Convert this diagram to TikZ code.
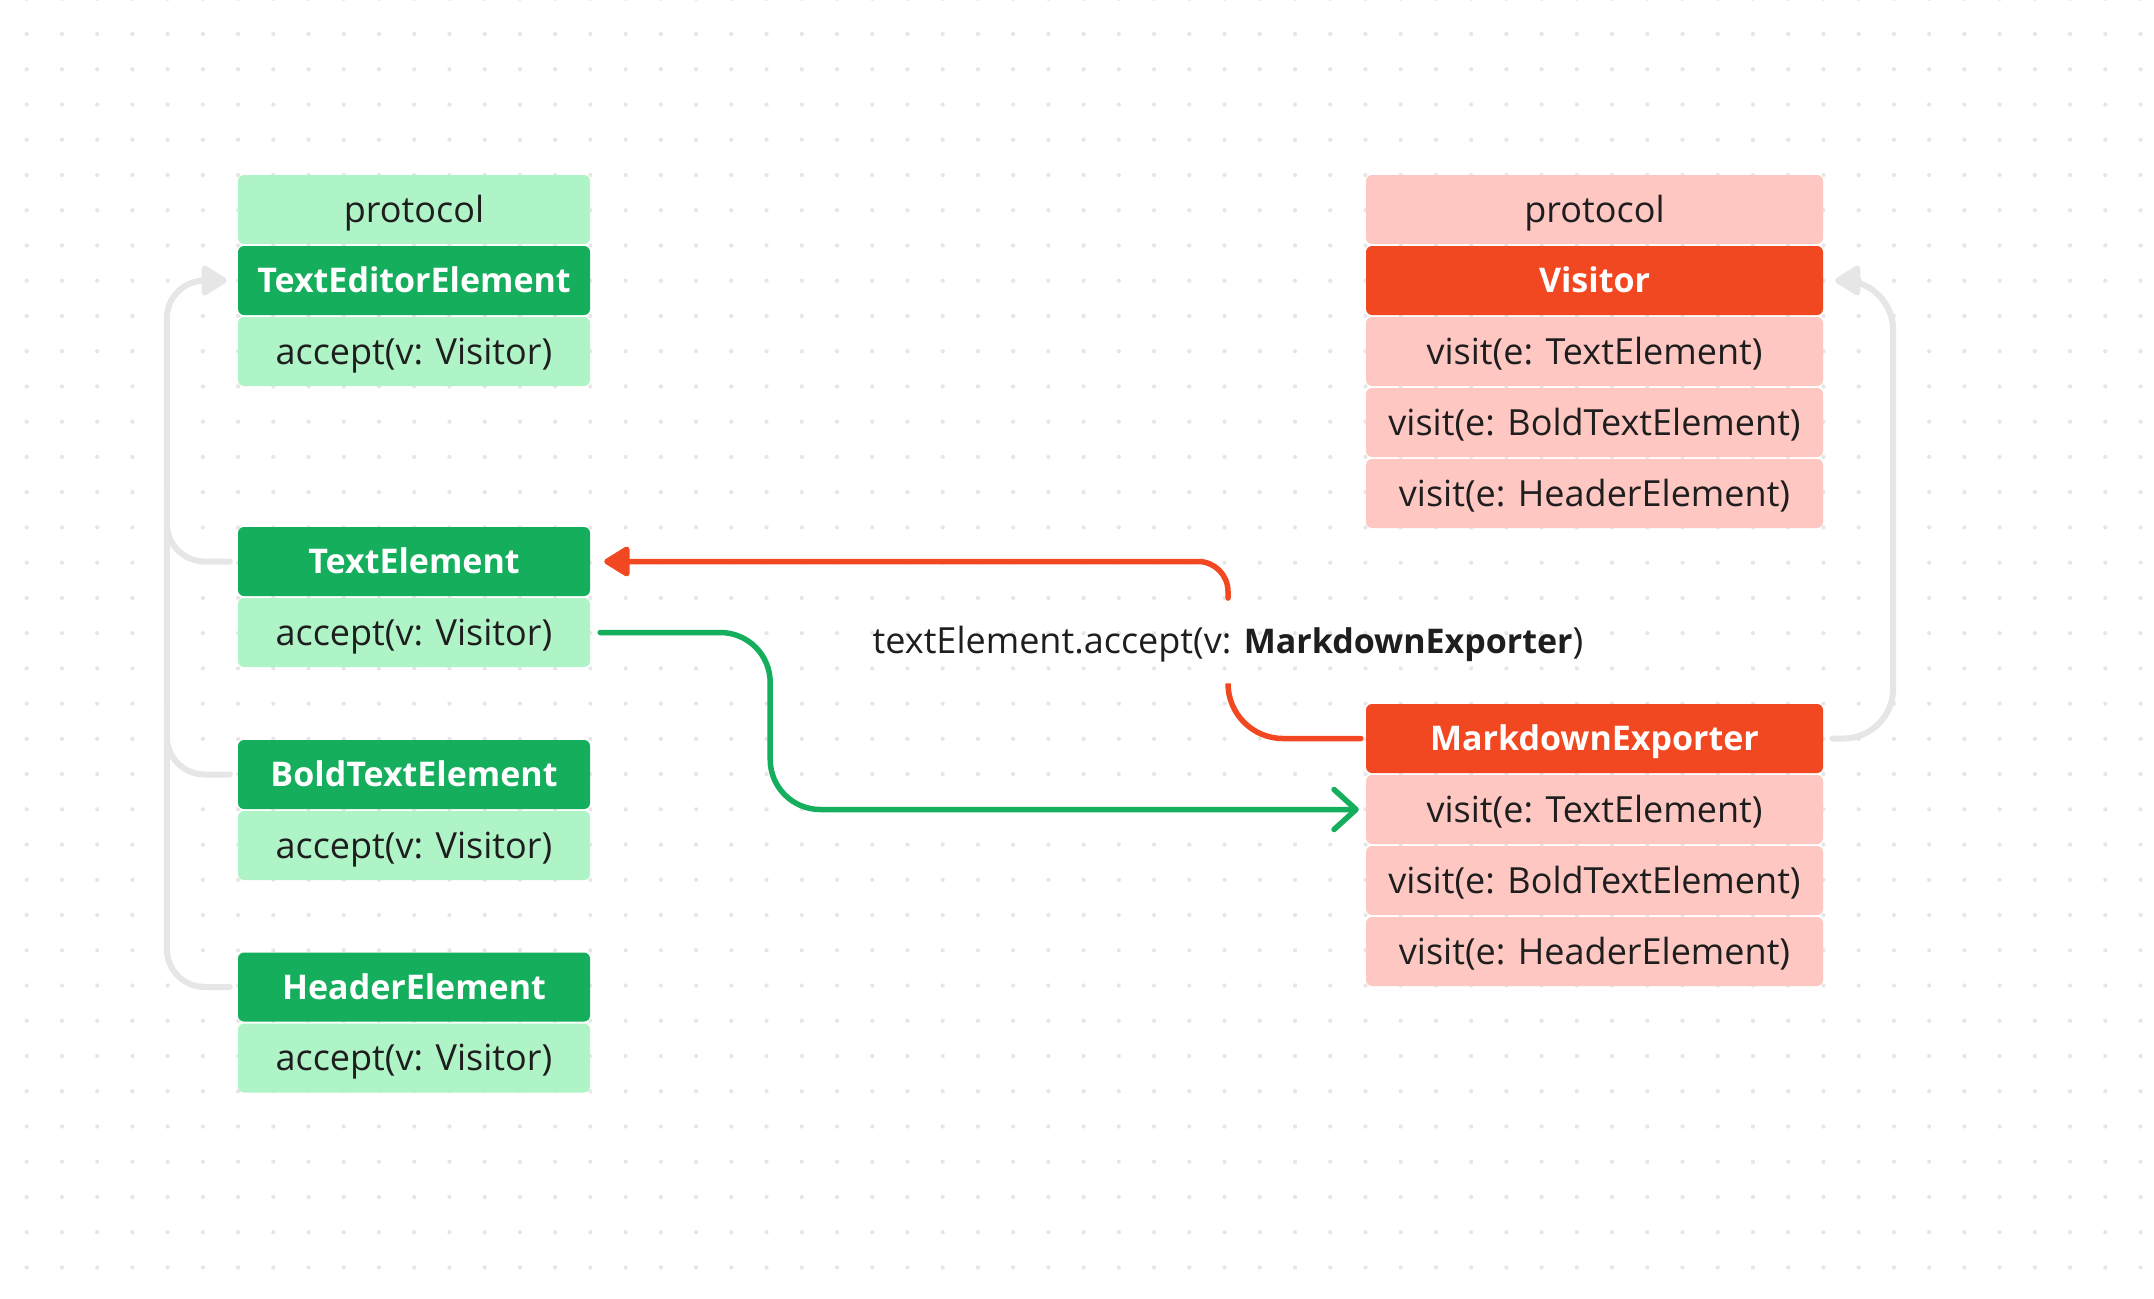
\documentclass[tikz,border=0pt]{standalone}
\usepackage{fontspec}
\setmainfont{Open Sans}
\usetikzlibrary{arrows.meta,calc}
\definecolor{lgreen}{HTML}{AFF4C6}
\definecolor{dgreen}{HTML}{14AE5C}
\definecolor{lred}{HTML}{FFC7C2}
\definecolor{dred}{HTML}{F24822}
\definecolor{greyline}{HTML}{E6E6E6}
\definecolor{dotc}{HTML}{E6E6E6}
\definecolor{txtdark}{HTML}{1E1E1E}
\newcommand{\regfont}{\fontsize{36}{43}\selectfont}
\newcommand{\boldfont}{\fontsize{34}{41}\selectfont\bfseries}
\tikzset{
  rowbase/.style={rectangle, rounded corners=6pt, minimum height=69pt, inner sep=0pt,
    text height=25.5pt, text depth=0pt, font=\regfont},
  gl/.style={rowbase, fill=lgreen, text=txtdark, minimum width=352pt},
  gh/.style={rowbase, fill=dgreen, text=white, minimum width=352pt, text height=24.5pt, font=\boldfont},
  rl/.style={rowbase, fill=lred, text=txtdark, minimum width=457pt},
  rh/.style={rowbase, fill=dred, text=white, minimum width=457pt, text height=24.5pt, font=\boldfont},
  lbl/.style={inner xsep=0pt, inner ysep=30pt, text height=25.5pt, text depth=0pt, text=txtdark, font=\regfont},
  redline/.style={draw=dred, line width=5.5pt, line cap=round},
  greenline/.style={draw=dgreen, line width=5.5pt, line cap=round},
  greyl/.style={draw=greyline, line width=6pt, line cap=round},
}
\begin{document}
\begin{tikzpicture}[x=1pt,y=-1pt]
\useasboundingbox (0,0) rectangle (2154,1298);
\fill[white] (0,0) rectangle (2154,1298);
\foreach \i in {0,...,60}{
  \foreach \j in {0,...,36}{
    \fill[dotc] (26.7+35.23*\i, -1.2+35.24*\j) circle (2.1pt);
  }
}
% left column
\node[gl] (lp)  at (414,209.5) {protocol};
\node[gh] (tee) at (414,280.5) {TextEditorElement};
\node[gl] (tea) at (414,351.5) {accept(v: Visitor)};
\node[gh] (te)  at (414,561.5) {TextElement};
\node[gl] (ta)  at (414,632.5) {accept(v: Visitor)};
\node[gh] (be)  at (414,774.5) {BoldTextElement};
\node[gl] (ba)  at (414,845.5) {accept(v: Visitor)};
\node[gh] (he)  at (414,987) {HeaderElement};
\node[gl] (ha)  at (414,1058) {accept(v: Visitor)};
% right column
\node[rl] (rp) at (1594.5,209.5) {protocol};
\node[rh] (vh) at (1594.5,280.5) {Visitor};
\node[rl] (v1) at (1594.5,351.5) {visit(e: TextElement)};
\node[rl] (v2) at (1594.5,422.5) {visit(e: BoldTextElement)};
\node[rl] (v3) at (1594.5,493.5) {visit(e: HeaderElement)};
\node[rh] (me) at (1594.5,738.5) {MarkdownExporter};
\node[rl] (m1) at (1594.5,809.5) {visit(e: TextElement)};
\node[rl] (m2) at (1594.5,880.5) {visit(e: BoldTextElement)};
\node[rl] (m3) at (1594.5,951.5) {visit(e: HeaderElement)};
% label
\node[lbl] (lb) at (1228,641) {textElement.accept(v: {\boldfont MarkdownExporter})};
% grey inheritance (left)
\draw[greyl, rounded corners=38pt] ([xshift=-8pt]te.west) -| ++(-63,-70);
\draw[greyl, rounded corners=38pt] ([xshift=-8pt]be.west) -| ++(-63,-70);
\draw[greyl, -{Triangle[length=28pt,width=33pt,round]}] ([xshift=-8pt]he.west) [rounded corners=38pt] -| ([xshift=-71pt]tee.west) [rounded corners=32pt] -- ([xshift=-11pt]tee.west);
% grey (right)
\draw[greyl, -{Triangle[length=28pt,width=33pt,round]}] ([xshift=9pt]me.east) [rounded corners=50pt] -| ([xshift=70pt]vh.east) [rounded corners=30pt] -- ([xshift=12pt]vh.east);
% green call
\draw[greenline, rounded corners=50pt, -{Straight Barb[length=22pt,width=40pt,round]}] ([xshift=10pt]ta.east) -- ++(170,0) |- ([xshift=-7pt]m1.west);
% red call
\draw[redline, rounded corners=55pt] ([xshift=-5pt]me.west) -| (lb.south);
\draw[redline, rounded corners=30pt, -{Triangle[length=28pt,width=33pt,round]}] (lb.north) |- ([xshift=14pt]te.east);
\end{tikzpicture}
\end{document}
